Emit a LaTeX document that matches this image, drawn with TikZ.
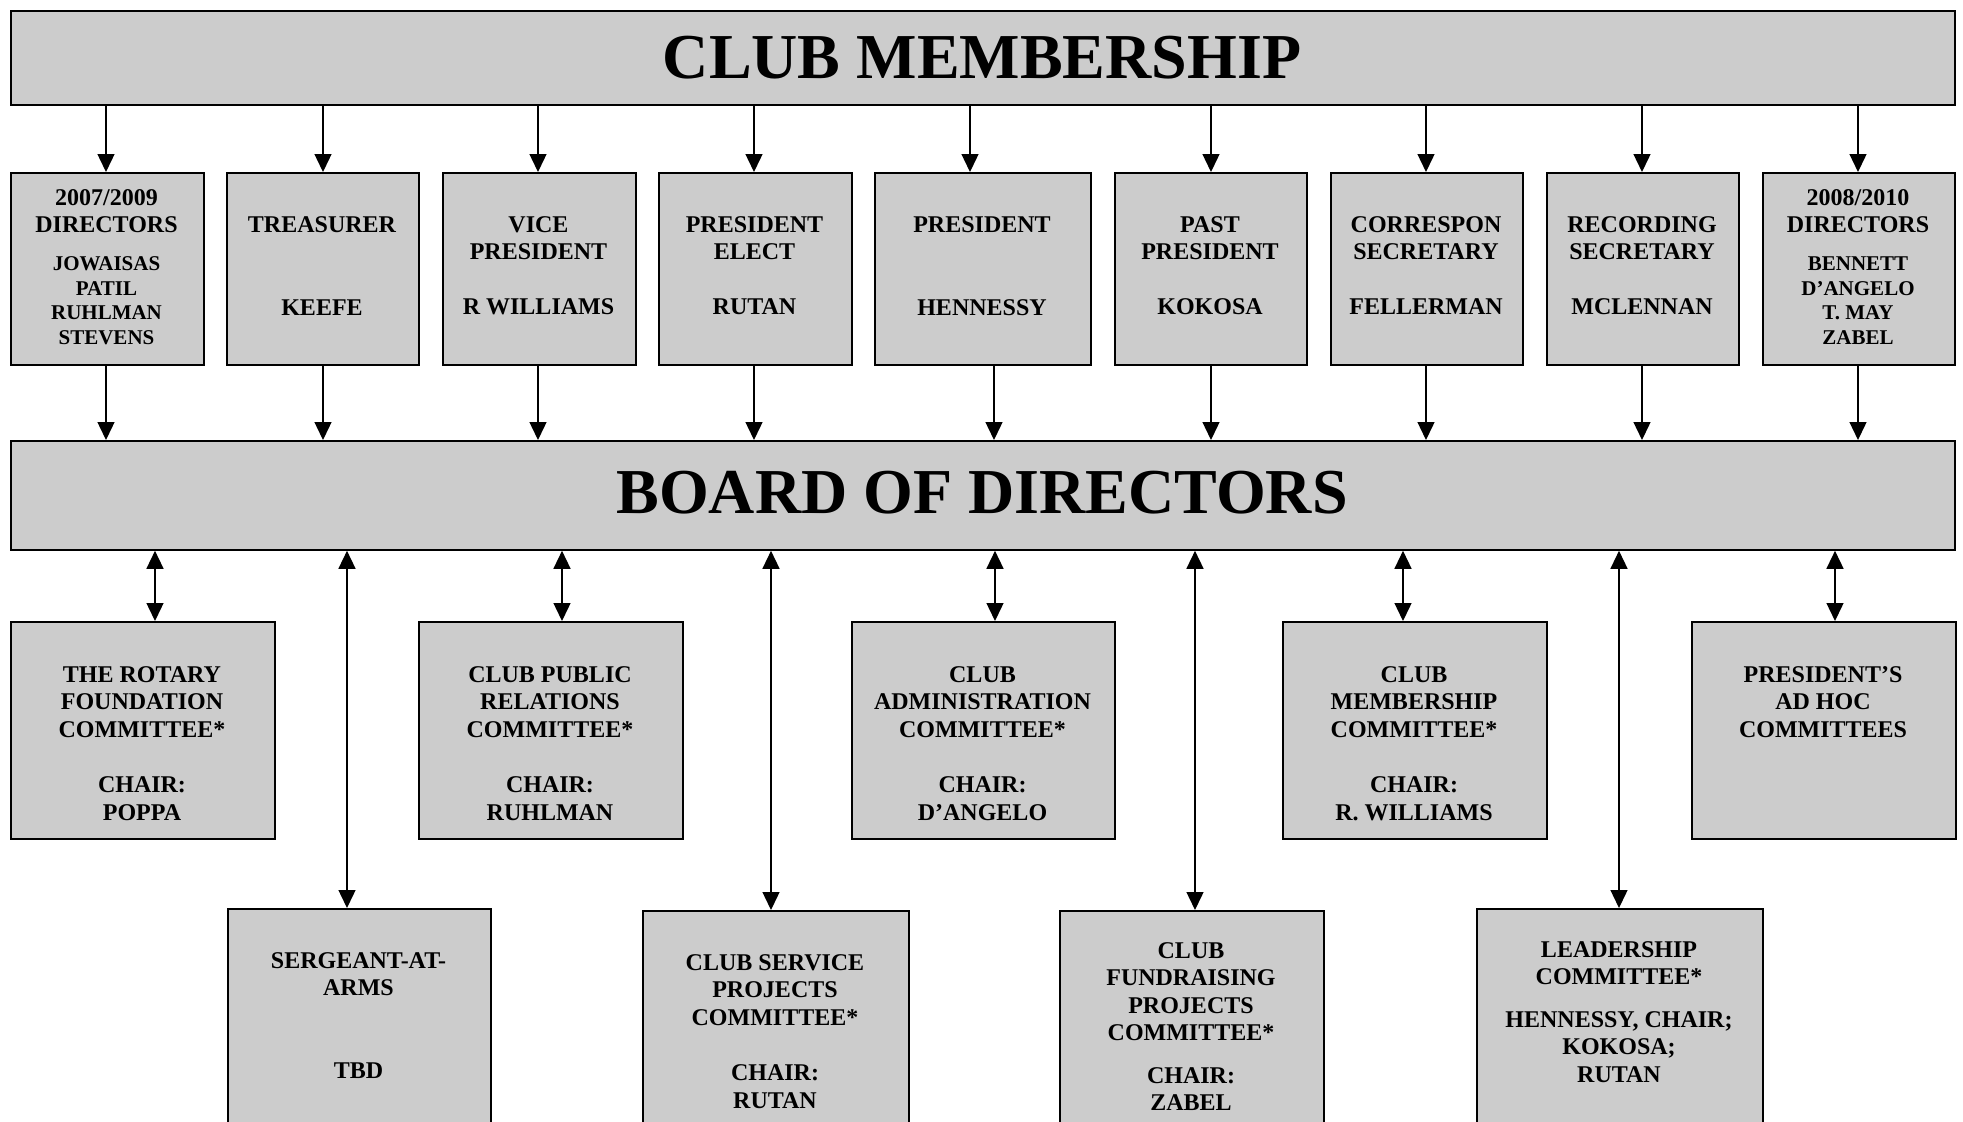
\documentclass[tikz,border=0pt]{standalone}
\usepackage{fontspec}
\setmainfont{Liberation Serif}
\usetikzlibrary{arrows.meta,calc}
\definecolor{boxgray}{RGB}{204,204,204}
\newcommand\namesz[1]{{\fontsize{21}{24.5}\selectfont #1}}
\tikzset{
  box/.style={draw=black, line width=1.8pt, fill=boxgray, inner sep=0pt, anchor=north west},
  txt/.style={font=\bfseries\fontsize{24}{27.5}\selectfont, align=center, inner sep=0pt, anchor=north},
  bigtxt/.style={font=\bfseries\fontsize{64}{70}\selectfont, inner sep=0pt, anchor=base},
  arr/.style={-{Triangle[length=18pt,width=17pt]}, line width=1.4pt},
  darr/.style={{Triangle[length=18pt,width=17pt]}-{Triangle[length=18pt,width=17pt]}, line width=1.4pt}
}
\begin{document}
\begin{tikzpicture}[x=1pt,y=-1pt]
\clip (0,0) rectangle (1963,1122);
\fill[white] (0,0) rectangle (1963,1122);
% top and board
\node[box, minimum width=1944pt, minimum height=94pt] (top) at (10,10) {};
\node[bigtxt] (toptxt) at (982,78) {CLUB MEMBERSHIP};
\node[box, minimum width=1944pt, minimum height=109pt] (board) at (10,440) {};
\node[bigtxt] (boardtxt) at (982,513) {BOARD OF DIRECTORS};
% row 1
\node[box, minimum width=193pt, minimum height=192pt] (r1) at (10,172) {};
\node[box, minimum width=192pt, minimum height=192pt] (r2) at (226,172) {};
\node[box, minimum width=193pt, minimum height=192pt] (r3) at (442,172) {};
\node[box, minimum width=193pt, minimum height=192pt] (r4) at (658,172) {};
\node[box, minimum width=216pt, minimum height=192pt] (r5) at (874,172) {};
\node[box, minimum width=192pt, minimum height=192pt] (r6) at (1114,172) {};
\node[box, minimum width=192pt, minimum height=192pt] (r7) at (1330,172) {};
\node[box, minimum width=192pt, minimum height=192pt] (r8) at (1546,172) {};
\node[box, minimum width=192pt, minimum height=192pt] (r9) at (1762,172) {};
\node[txt] (r1t) at (106.5,189) {2007/2009\\DIRECTORS\\[10.5pt]\namesz{JOWAISAS}\\[-3pt]\namesz{PATIL}\\[-3pt]\namesz{RUHLMAN}\\[-3pt]\namesz{STEVENS}};
\node[txt] (r2t) at (322,216) {TREASURER\\[55.5pt]KEEFE};
\node[txt] (r3t) at (538.5,216) {VICE\\PRESIDENT\\[27.5pt]R WILLIAMS};
\node[txt] (r4t) at (754.5,216) {PRESIDENT\\ELECT\\[27.5pt]RUTAN};
\node[txt] (r5t) at (982,216) {PRESIDENT\\[55.5pt]HENNESSY};
\node[txt] (r6t) at (1210,216) {PAST\\PRESIDENT\\[27.5pt]KOKOSA};
\node[txt] (r7t) at (1426,216) {CORRESPON\\SECRETARY\\[27.5pt]FELLERMAN};
\node[txt] (r8t) at (1642,216) {RECORDING\\SECRETARY\\[27.5pt]MCLENNAN};
\node[txt] (r9t) at (1858,189) {2008/2010\\DIRECTORS\\[10.5pt]\namesz{BENNETT}\\[-3pt]\namesz{D’ANGELO}\\[-3pt]\namesz{T. MAY}\\[-3pt]\namesz{ZABEL}};
% row 2
\node[box, minimum width=264pt, minimum height=217pt] (bA) at (10,621) {};
\node[box, minimum width=264pt, minimum height=217pt] (bB) at (418,621) {};
\node[box, minimum width=263pt, minimum height=217pt] (bC) at (851,621) {};
\node[box, minimum width=264pt, minimum height=217pt] (bD) at (1282,621) {};
\node[box, minimum width=264pt, minimum height=217pt] (bE) at (1691,621) {};
\node[txt] (bAt) at (142,666) {THE ROTARY\\FOUNDATION\\COMMITTEE*\\[28pt]CHAIR:\\POPPA};
\node[txt] (bBt) at (550,666) {CLUB PUBLIC\\RELATIONS\\COMMITTEE*\\[28pt]CHAIR:\\RUHLMAN};
\node[txt] (bCt) at (982.5,666) {CLUB\\ADMINISTRATION\\COMMITTEE*\\[28pt]CHAIR:\\D’ANGELO};
\node[txt] (bDt) at (1414,666) {CLUB\\MEMBERSHIP\\COMMITTEE*\\[28pt]CHAIR:\\R. WILLIAMS};
\node[txt] (bEt) at (1823,666) {PRESIDENT’S\\AD HOC\\COMMITTEES};
% row 3
\node[box, minimum width=263pt, minimum height=240pt] (cA) at (227,908) {};
\node[box, minimum width=266pt, minimum height=240pt] (cB) at (642,910) {};
\node[box, minimum width=264pt, minimum height=240pt] (cC) at (1059,910) {};
\node[box, minimum width=286pt, minimum height=240pt] (cD) at (1476,908) {};
\node[txt] (cAt) at (358.5,952) {SERGEANT-AT-\\ARMS\\[55pt]TBD};
\node[txt] (cBt) at (775,954) {CLUB SERVICE\\PROJECTS\\COMMITTEE*\\[28pt]CHAIR:\\RUTAN};
\node[txt] (cCt) at (1191,942) {CLUB\\FUNDRAISING\\PROJECTS\\COMMITTEE*\\[15pt]CHAIR:\\ZABEL};
\node[txt] (cDt) at (1619,941) {LEADERSHIP\\COMMITTEE*\\[15pt]HENNESSY, CHAIR;\\KOKOSA;\\RUTAN};
% connector x positions
\coordinate (x1) at (106,0);
\coordinate (x2) at (323,0);
\coordinate (x3) at (538,0);
\coordinate (x4) at (754,0);
\coordinate (x5a) at (970,0);
\coordinate (x5b) at (994,0);
\coordinate (x6) at (1211,0);
\coordinate (x7) at (1426,0);
\coordinate (x8) at (1642,0);
\coordinate (x9) at (1858,0);
\foreach \n/\xa/\xb in {r1/x1/x1, r2/x2/x2, r3/x3/x3, r4/x4/x4, r5/x5a/x5b, r6/x6/x6, r7/x7/x7, r8/x8/x8, r9/x9/x9}{
  \draw[arr] (top.south -| \xa) -- (\n.north -| \xa);
  \draw[arr] (\n.south -| \xb) -- (board.north -| \xb);
}
\coordinate (xA) at (155,0);
\coordinate (xB) at (562,0);
\coordinate (xC) at (995,0);
\coordinate (xD) at (1403,0);
\coordinate (xE) at (1835,0);
\coordinate (yA) at (347,0);
\coordinate (yB) at (771,0);
\coordinate (yC) at (1195,0);
\coordinate (yD) at (1619,0);
\foreach \n/\xx in {bA/xA, bB/xB, bC/xC, bD/xD, bE/xE, cA/yA, cB/yB, cC/yC, cD/yD}{
  \draw[darr] (board.south -| \xx) -- (\n.north -| \xx);
}
\end{tikzpicture}
\end{document}
